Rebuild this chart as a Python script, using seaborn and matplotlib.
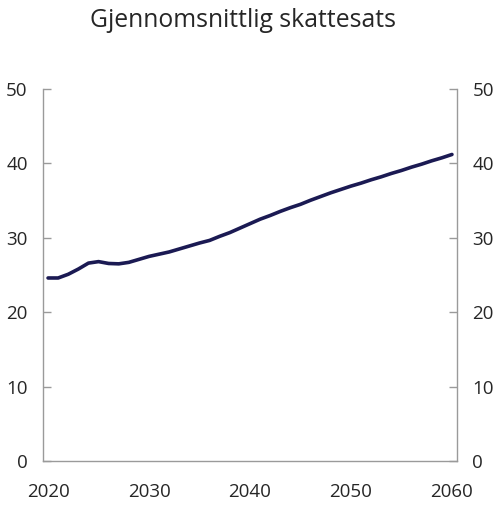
import matplotlib
matplotlib.use("Agg")
import matplotlib.pyplot as plt
import seaborn as sns
import pandas as pd

### Data
years = list(range(2020, 2061))
skattesats = [24.6, 24.6, 25.1, 25.8, 26.6, 26.8, 26.55, 26.5, 26.7, 27.1,
              27.5, 27.8, 28.1, 28.5, 28.9, 29.3, 29.65, 30.2, 30.7, 31.3,
              31.9, 32.5, 33.0, 33.55, 34.05, 34.5, 35.05, 35.55, 36.05, 36.5,
              36.95, 37.35, 37.8, 38.2, 38.65, 39.05, 39.5, 39.9, 40.35, 40.75,
              41.2]
y_ticks = [0, 10, 20, 30, 40, 50]
x_ticks = [2020, 2030, 2040, 2050, 2060]
title = "Gjennomsnittlig skattesats"

df = pd.DataFrame({"År": years, "Skattesats": skattesats})

sns.set_style("white")
plt.rcParams['font.family'] = ['Open Sans', 'DejaVu Sans']

fig = plt.figure(figsize=(5, 5.08), dpi=100)
ax = fig.add_axes([0.086, 0.0925, 0.828, 0.7323])

sns.lineplot(data=df, x="År", y="Skattesats", ax=ax, color="#1b1a53", linewidth=2.6)

ax.set_xlim(2019.5, 2060.5)
ax.set_ylim(0, 50)
ax.set_xticks(x_ticks)
ax.set_yticks(y_ticks)
ax.set_xlabel("")
ax.set_ylabel("")

ax.spines["top"].set_visible(False)
for s in ["left", "right", "bottom"]:
    ax.spines[s].set_color("#9a9a9a")
    ax.spines[s].set_linewidth(1.0)

ax.tick_params(axis="y", direction="in", length=6, width=1, color="#9a9a9a",
               left=True, right=True, labelleft=True, labelright=True,
               labelsize=13.5, pad=11)
ax.tick_params(axis="x", length=0, labelsize=13.5, pad=16)

fig.text(0.485, 0.96, title, fontsize=17.8, ha="center", va="center")

fig.savefig("out.png", dpi=100)
